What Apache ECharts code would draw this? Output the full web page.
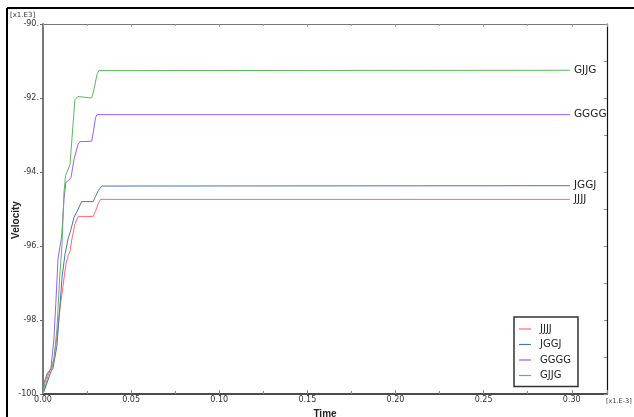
<!DOCTYPE html>
<html><head><meta charset="utf-8">
<script src="https://cdn.jsdelivr.net/npm/echarts@6/dist/echarts.min.js"></script>
<style>html,body{margin:0;padding:0;background:#fff}#c{width:634px;height:417px}</style>
</head><body><div id="c"></div>
<script>
// Time in [x1.E-3], Velocity in [x1.E3]
const seriesNames = ['JJJJ', 'JGGJ', 'GGGG', 'GJJG'];
const timeJJJJ = [0, 0.0011, 0.0028, 0.0045, 0.0062, 0.0079, 0.0096, 0.0113, 0.013, 0.0145, 0.0153, 0.0164, 0.0181, 0.020, 0.0285, 0.0298, 0.0312, 0.0326, 0.299];
const velJJJJ  = [-100, -99.84, -99.52, -99.3, -99.05, -98.45, -97.7, -97.1, -96.49, -96.22, -96.16, -95.81, -95.41, -95.2, -95.2, -95.06, -94.87, -94.74, -94.74];
const timeJGGJ = [0, 0.0011, 0.0028, 0.0045, 0.0057, 0.0079, 0.0094, 0.0108, 0.0125, 0.0142, 0.0156, 0.0176, 0.020, 0.0219, 0.0285, 0.0298, 0.0313, 0.0333, 0.299];
const velJGGJ  = [-100, -99.95, -99.63, -99.4, -99.3, -98.7, -97.75, -96.84, -96.22, -95.81, -95.6, -95.22, -95.0, -94.8, -94.8, -94.66, -94.51, -94.38, -94.37];
const timeGGGG = [0, 0.0006, 0.0023, 0.0034, 0.0045, 0.0062, 0.0074, 0.0085, 0.0106, 0.0119, 0.013, 0.0145, 0.0159, 0.0176, 0.0198, 0.021, 0.0276, 0.0286, 0.0298, 0.0306, 0.299];
const velGGGG  = [-100, -99.7, -99.45, -99.5, -99.31, -98.5, -97.43, -96.35, -95.73, -94.74, -94.28, -94.23, -94.15, -93.66, -93.26, -93.18, -93.17, -92.91, -92.53, -92.45, -92.45];
const timeGJJG = [0, 0.0011, 0.0028, 0.0048, 0.0062, 0.0079, 0.0094, 0.0108, 0.0119, 0.0128, 0.0136, 0.0153, 0.0181, 0.0198, 0.0276, 0.0289, 0.0306, 0.0317, 0.299];
const velGJJG  = [-100, -99.7, -99.42, -99.37, -99.05, -98.24, -96.89, -95.95, -94.55, -94.09, -94.01, -93.8, -92.05, -91.96, -92.0, -91.78, -91.37, -91.26, -91.25];
const xTicks = [0, 0.05, 0.10, 0.15, 0.20, 0.25, 0.30];
const yTicks = [-100, -98, -96, -94, -92, -90];
const colors = ['#ff6a6a', '#4f74a8', '#a05ee0', '#5cb85c'];

const times = [timeJJJJ, timeJGGJ, timeGGGG, timeGJJG];
const vels = [velJJJJ, velJGGJ, velGGGG, velGJJG];

const chart = echarts.init(document.getElementById('c'));
const lblFont = {fontSize: 8, color: '#333', fontFamily: 'DejaVu Sans'};
chart.setOption({
  animation: false,
  color: colors,
  grid: {left: 43, top: 24, right: 27, bottom: 23, containLabel: false, outerBoundsMode: 'none'},
  xAxis: [{
    type: 'value', min: 0, max: 0.32, interval: 0.05, position: 'bottom',
    axisLine: {show: true, onZero: false, lineStyle: {color: '#111', width: 1.5}},
    axisTick: {show: true, inside: true, length: 4, lineStyle: {color: '#888'}},
    minorTick: {show: true, splitNumber: 2, length: 3, lineStyle: {color: '#888'}},
    splitLine: {show: false},
    axisLabel: Object.assign({margin: 2, formatter: v => xTicks.some(t => Math.abs(t - v) < 1e-9) ? v.toFixed(2) : ''}, lblFont),
    name: 'Time', nameLocation: 'middle', nameGap: 10,
    nameTextStyle: {fontSize: 10, fontWeight: 'bold', color: '#222', fontFamily: 'Liberation Sans'}
  }, {
    type: 'value', min: 0, max: 0.32, interval: 0.05, position: 'top',
    axisLine: {show: true, onZero: false, lineStyle: {color: '#777', width: 1}},
    axisTick: {show: true, inside: true, length: 3, lineStyle: {color: '#999'}},
    minorTick: {show: true, splitNumber: 2, length: 2, lineStyle: {color: '#999'}},
    splitLine: {show: false}, axisLabel: {show: false}
  }],
  yAxis: [{
    type: 'value', min: -100, max: -90, interval: 2, position: 'left',
    axisLine: {show: true, onZero: false, lineStyle: {color: '#777', width: 2}},
    axisTick: {show: true, inside: false, length: 3, lineStyle: {color: '#666'}},
    minorTick: {show: false},
    splitLine: {show: false},
    axisLabel: Object.assign({margin: 4, formatter: v => yTicks.includes(v) ? v + '.' : ''}, lblFont)
  }, {
    type: 'value', min: -100, max: -90, interval: 2, position: 'right',
    axisLine: {show: true, onZero: false, lineStyle: {color: '#111', width: 1.2}},
    axisTick: {show: true, inside: true, length: 3, lineStyle: {color: '#888'}},
    minorTick: {show: true, splitNumber: 2, length: 3, lineStyle: {color: '#888'}},
    splitLine: {show: false}, axisLabel: {show: false}
  }],
  legend: {
    orient: 'vertical', left: 514, top: 317,
    data: seriesNames.map(n => ({name: n, icon: 'rect'})),
    backgroundColor: '#fff', borderColor: '#333', borderWidth: 1.5,
    padding: [7, 7, 6, 5], itemGap: 5.5, itemWidth: 12, itemHeight: 1.2,
    textStyle: {fontSize: 10, color: '#222', fontFamily: 'DejaVu Sans', padding: [0, 0, 0, 4], lineHeight: 10}
  },
  graphic: [
    {type: 'line', shape: {x1: 7, y1: 8, x2: 634, y2: 8}, style: {stroke: '#000', lineWidth: 2}},
    {type: 'line', shape: {x1: 7, y1: 8, x2: 7, y2: 417}, style: {stroke: '#000', lineWidth: 2}},
    {type: 'text', left: 10, top: 12, style: {text: '[x1.E3]', fontSize: 7, fill: '#333', fontFamily: 'DejaVu Sans'}},
    {type: 'text', left: 606, top: 398, style: {text: '[x1.E-3]', fontSize: 6.5, fill: '#333', fontFamily: 'DejaVu Sans'}},
    {type: 'text', x: 16, y: 220, rotation: Math.PI / 2, style: {text: 'Velocity', fontSize: 10, fontWeight: 'bold', fill: '#222', fontFamily: 'Liberation Sans', align: 'center', verticalAlign: 'middle'}}
  ],
  series: seriesNames.map((n, i) => ({
    name: n, type: 'line', symbol: 'none', showSymbol: false,
    data: times[i].map((t, k) => [t, vels[i][k]]),
    lineStyle: {width: 1, color: colors[i]},
    itemStyle: {color: colors[i]},
    endLabel: {show: true, formatter: n, distance: 4, fontSize: 10.5, color: '#222', fontFamily: 'DejaVu Sans'}
  }))
});
</script></body></html>
